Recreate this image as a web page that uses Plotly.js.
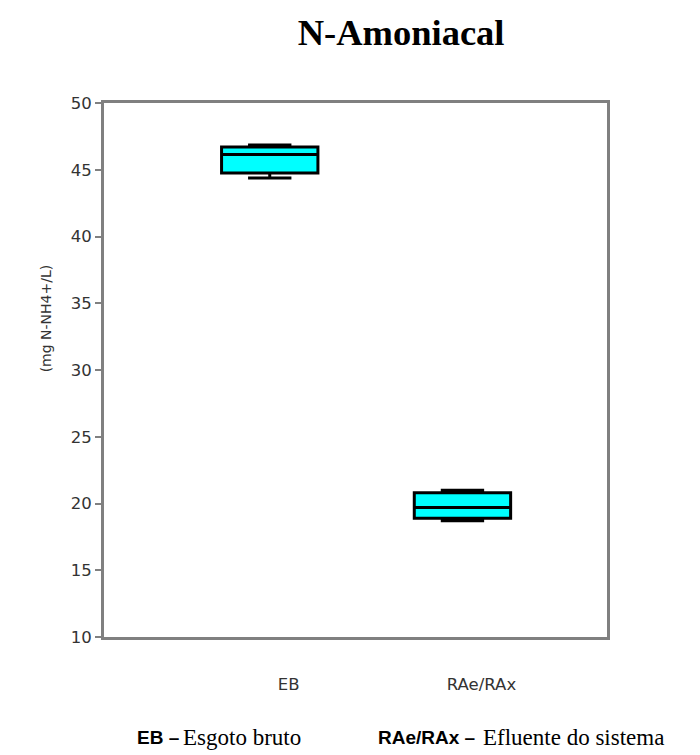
<!DOCTYPE html>
<html>
<head>
<meta charset="utf-8">
<script src="https://cdn.plot.ly/plotly-3.0.1.min.js"></script>
<style>html,body{margin:0;padding:0;background:#fff;}#chart{width:700px;height:755px;}</style>
</head>
<body>
<div id="chart"></div>
<script>
const categories = ["EB", "RAe/RAx"];
const lowerWhisker = [44.38, 18.7];
const q1Values = [44.76, 18.9];
const medianValues = [46.15, 19.7];
const q3Values = [46.7, 20.8];
const upperWhisker = [46.85, 21.0];
const yTicks = [10, 15, 20, 25, 30, 35, 40, 45, 50];

const trace = {
  type: "box",
  x: categories,
  q1: q1Values,
  median: medianValues,
  q3: q3Values,
  lowerfence: lowerWhisker,
  upperfence: upperWhisker,
  width: 0.5,
  whiskerwidth: 0.45,
  fillcolor: "#00FFFF",
  line: {color: "#000000", width: 3},
  boxpoints: false,
  showlegend: false,
  hoverinfo: "skip"
};

const tickFont = {family: "DejaVu Sans, sans-serif", size: 16.5, color: "#333333"};

const layout = {
  width: 700,
  height: 755,
  margin: {l: 104, r: 93, t: 103, b: 118},
  paper_bgcolor: "#ffffff",
  plot_bgcolor: "#ffffff",
  title: {
    text: "<b>N-Amoniacal</b>",
    font: {family: "Liberation Serif, Times New Roman, serif", size: 36.5, color: "#000000"},
    x: 0.573, xanchor: "center", y: 0.957, yanchor: "middle"
  },
  xaxis: {
    type: "category",
    range: [-0.86, 1.75],
    showgrid: false,
    zeroline: false,
    showline: true,
    mirror: true,
    linecolor: "#808080",
    linewidth: 3,
    ticks: "",
    tickfont: tickFont,
    ticklabelstandoff: 30,
    ticklabelshift: 19
  },
  yaxis: {
    range: [10, 50],
    tickvals: yTicks,
    showgrid: false,
    zeroline: false,
    showline: true,
    mirror: true,
    linecolor: "#808080",
    linewidth: 3,
    ticks: "outside",
    ticklen: 6,
    tickwidth: 2,
    tickcolor: "#808080",
    tickfont: tickFont
  },
  annotations: [
    {xref: "paper", yref: "paper", x: -0.115, y: 0.597, xanchor: "center", yanchor: "middle",
     textangle: -90, text: "(mg N-NH4+/L)", showarrow: false,
     font: {family: "DejaVu Sans, sans-serif", size: 14, color: "#333333"}},
    {xref: "paper", yref: "paper", x: 0.062, y: -0.188, xanchor: "left", yanchor: "middle",
     text: "<b>EB –</b>", showarrow: false,
     font: {family: "Liberation Sans, Arial, sans-serif", size: 19, color: "#000"}},
    {xref: "paper", yref: "paper", x: 0.153, y: -0.188, xanchor: "left", yanchor: "middle",
     text: "Esgoto bruto", showarrow: false,
     font: {family: "Liberation Serif, Times New Roman, serif", size: 23, color: "#000"}},
    {xref: "paper", yref: "paper", x: 0.541, y: -0.188, xanchor: "left", yanchor: "middle",
     text: "<b>RAe/RAx –</b>", showarrow: false,
     font: {family: "Liberation Sans, Arial, sans-serif", size: 19, color: "#000"}},
    {xref: "paper", yref: "paper", x: 0.75, y: -0.188, xanchor: "left", yanchor: "middle",
     text: "Efluente do sistema", showarrow: false,
     font: {family: "Liberation Serif, Times New Roman, serif", size: 23, color: "#000"}}
  ]
};

Plotly.newPlot("chart", [trace], layout, {displayModeBar: false, staticPlot: true});
</script>
</body>
</html>
